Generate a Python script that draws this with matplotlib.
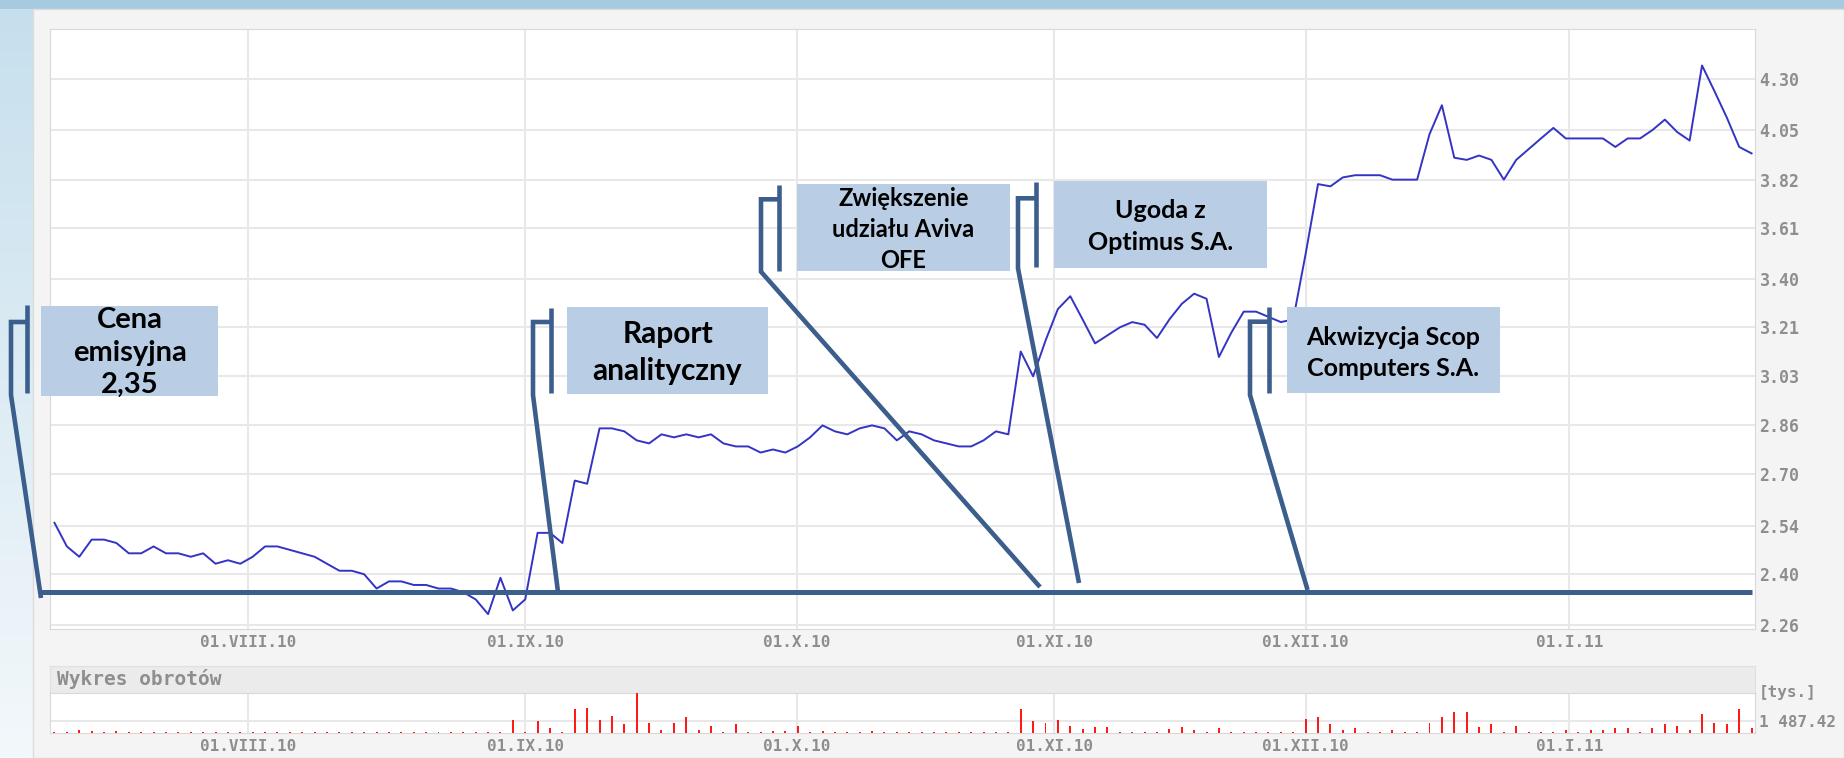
import matplotlib
matplotlib.use("Agg")
import matplotlib.pyplot as plt
from matplotlib.patches import Rectangle
from matplotlib.lines import Line2D
from matplotlib.ticker import NullLocator
import numpy as np

# kurs zamkniecia - kolejne sesje (lipiec 2010 - styczen 2011)
price = [
    2.55, 2.48, 2.45, 2.50, 2.50, 2.49, 2.46, 2.46, 2.48, 2.46,
    2.46, 2.45, 2.46, 2.43, 2.44, 2.43, 2.45, 2.48, 2.48, 2.47,
    2.46, 2.45, 2.43, 2.41, 2.41, 2.40, 2.36, 2.38, 2.38, 2.37,
    2.37, 2.36, 2.36, 2.35, 2.33, 2.29, 2.39, 2.30, 2.33, 2.52,
    2.52, 2.49, 2.68, 2.67, 2.85, 2.85, 2.84, 2.81, 2.80, 2.83,
    2.82, 2.83, 2.82, 2.83, 2.80, 2.79, 2.79, 2.77, 2.78, 2.77,
    2.79, 2.82, 2.86, 2.84, 2.83, 2.85, 2.86, 2.85, 2.81, 2.84,
    2.83, 2.81, 2.80, 2.79, 2.79, 2.81, 2.84, 2.83, 3.12, 3.03,
    3.16, 3.28, 3.33, 3.24, 3.15, 3.18, 3.21, 3.23, 3.22, 3.17,
    3.24, 3.30, 3.34, 3.32, 3.10, 3.19, 3.27, 3.27, 3.25, 3.23,
    3.24, 3.50, 3.80, 3.79, 3.83, 3.84, 3.84, 3.84, 3.82, 3.82,
    3.82, 4.03, 4.17, 3.92, 3.91, 3.93, 3.91, 3.82, 3.91, 3.96,
    4.01, 4.06, 4.01, 4.01, 4.01, 4.01, 3.97, 4.01, 4.01, 4.05,
    4.10, 4.04, 4.00, 4.37, 4.24, 4.11, 3.97, 3.94,
]

# obroty [tys.]
volume = [
    150, 150, 390, 250, 150, 250, 150, 150, 150, 150,
    150, 150, 150, 150, 150, 150, 150, 150, 150, 150,
    150, 150, 150, 150, 150, 150, 150, 150, 150, 150,
    150, 150, 150, 150, 150, 150, 150, 1570, 150, 1450,
    590, 150, 2830, 3020, 1570, 2040, 1100, 4790, 1250, 390,
    1250, 1890, 400, 900, 150, 1060, 150, 150, 300, 300,
    900, 150, 250, 150, 150, 150, 250, 150, 150, 150,
    200, 150, 150, 150, 200, 150, 150, 150, 2870, 1450,
    1250, 1570, 900, 500, 700, 700, 200, 200, 200, 200,
    500, 700, 400, 200, 590, 200, 150, 150, 150, 150,
    200, 1690, 1890, 1100, 390, 590, 200, 150, 390, 200,
    150, 1250, 1890, 2550, 2550, 700, 1100, 200, 900, 200,
    200, 150, 390, 200, 390, 390, 590, 590, 200, 590,
    1100, 900, 390, 2240, 1250, 1100, 2830, 590,
]

sessions = np.arange(len(price))

month_pos = [15.6, 38.0, 59.9, 80.7, 101.0, 122.3]
month_labels = ["01.VIII.10", "01.IX.10", "01.X.10", "01.XI.10", "01.XII.10", "01.I.11"]
price_ticks = [2.26, 2.40, 2.54, 2.70, 2.86, 3.03, 3.21, 3.40, 3.61, 3.82, 4.05, 4.30]
volume_ref = 1487.42
issue_price = 2.35

W, H = 1844, 758
CALLOUT = "#3b5e8c"
BOX = "#b9cde5"
TICK_C = "#8e8e8e"
tick_font = dict(family="DejaVu Sans Mono", weight="bold", color=TICK_C)

# opisy zdarzen: ramka, pionowa belka, linia odnosnika (w pikselach obrazka)
events = [
    dict(lines=[("Cena", 328.3), ("emisyjna", 360.8), ("2,35", 393.3)], size=21,
         box=(41, 305.5, 218, 396), bar=(27, 305, 393), stub_y=322, elbow_x=11,
         bend_y=395, end=(41, 598)),
    dict(lines=[("Raport", 342.7), ("analityczny", 380)], size=21.5,
         box=(567, 307, 768, 393.5), bar=(550.5, 308, 393), stub_y=322, elbow_x=533,
         bend_y=395, end=(558, 592)),
    dict(lines=[("Zwiększenie", 206), ("udziału Aviva", 237.3), ("OFE", 268.3)], size=17,
         box=(797, 184, 1009.5, 271), bar=(779, 185, 271), stub_y=199.3, elbow_x=761,
         bend_y=271.7, end=(1040, 587)),
    dict(lines=[("Ugoda z", 218.3), ("Optimus S.A.", 250)], size=18,
         box=(1054, 181, 1267, 268), bar=(1036, 181.7, 267.3), stub_y=198.3, elbow_x=1018,
         bend_y=268.3, end=(1079, 583)),
    dict(lines=[("Akwizycja Scop", 345), ("Computers S.A.", 376)], size=18,
         box=(1287, 307.3, 1500, 393.3), bar=(1269, 307, 393), stub_y=321.7, elbow_x=1250,
         bend_y=395, end=(1307.6, 590)),
]


def frect(x0, y0, x1, y1):
    return [x0 / W, 1 - y1 / H, (x1 - x0) / W, (y1 - y0) / H]


def fx(x):
    return np.asarray(x, dtype=float) / W


def fy(y):
    return 1 - np.asarray(y, dtype=float) / H


fig = plt.figure(figsize=(W / 100, H / 100), dpi=100)

# tlo strony
bg = fig.add_axes([0, 0, 1, 1], zorder=-5)
grad = np.linspace(0, 1, 256).reshape(-1, 1)
bg.imshow(grad, aspect="auto", extent=[0, 1, 0, 1], cmap=matplotlib.colors.LinearSegmentedColormap.from_list(
    "bg", ["#c6dfed", "#f3f8fb"]))
bg.add_patch(Rectangle((0, fy(9)), 1, 1 - fy(9), color="#a6cbe0", lw=0))
bg.add_patch(Rectangle((fx(33), 0), 1 - fx(33), fy(9), facecolor="#f4f4f4", edgecolor="#dcdcdc", lw=1))
bg.set_xlim(0, 1)
bg.set_ylim(0, 1)
bg.axis("off")

# wykres kursu
ax = fig.add_axes(frect(50.4, 29.3, 1755.3, 628.7))
ax.set_facecolor("white")
ax.plot(sessions, price, color="#3434c4", lw=1.4, zorder=3)
ax.plot([-1.09, 137.0], [issue_price, issue_price], color=CALLOUT, lw=3.6,
        solid_capstyle="butt", clip_on=False, zorder=4)
ax.set_yscale("log")
ax.set_ylim(2.251, 4.56)
ax.set_xlim(-0.33, 137.3)
ax.set_yticks(price_ticks)
ax.set_yticklabels([f"{v:.2f}" for v in price_ticks])
ax.yaxis.set_minor_locator(NullLocator())
ax.set_xticks(month_pos)
ax.set_xticklabels(month_labels)
ax.yaxis.tick_right()
ax.tick_params(axis="y", length=0, pad=3, labelsize=12)
ax.tick_params(axis="x", length=0, pad=4.5, labelsize=11.5)
for lab in ax.get_xticklabels() + ax.get_yticklabels():
    lab.set(**tick_font)
ax.grid(True, color="#e8e8e8", lw=1.5)
ax.set_axisbelow(True)
for sp in ax.spines.values():
    sp.set_color("#d9d9d9")

# naglowek wykresu obrotow
hdr = fig.add_axes(frect(50.4, 666, 1755.3, 693.3))
hdr.set_facecolor("#ebebeb")
hdr.set_xticks([])
hdr.set_yticks([])
for sp in hdr.spines.values():
    sp.set_color("#e0e0e0")
fig.text(fx(57), fy(679), "Wykres obrotów", ha="left", va="center", fontsize=14, **tick_font)

# wykres obrotow
vax = fig.add_axes(frect(50.4, 693.3, 1755.3, 733.3))
vax.set_facecolor("white")
vax.bar(sessions, volume, width=0.16, color="#ff1a1a", zorder=3)
vax.set_xlim(-0.33, 137.3)
vax.set_ylim(0, 4722)
vax.set_yticks([volume_ref])
vax.set_yticklabels(["1 487.42"])
vax.yaxis.tick_right()
vax.set_xticks(month_pos)
vax.set_xticklabels(month_labels)
vax.tick_params(axis="y", length=0, pad=3, labelsize=11.5)
vax.tick_params(axis="x", length=0, pad=4, labelsize=11.5)
for lab in vax.get_xticklabels() + vax.get_yticklabels():
    lab.set(**tick_font)
vax.grid(True, color="#e8e8e8", lw=1.5)
vax.set_axisbelow(True)
for sp in vax.spines.values():
    sp.set_color("#d9d9d9")
fig.text(fx(1759), fy(692), "[tys.]", ha="left", va="center", fontsize=11.5, **tick_font)

# odnosniki do zdarzen
for ev in events:
    x0, y0, x1, y1 = ev["box"]
    fig.add_artist(Rectangle((fx(x0), fy(y1)), fx(x1) - fx(x0), fy(y0) - fy(y1),
                             transform=fig.transFigure, facecolor=BOX, lw=0, zorder=5))
    bx, by0, by1 = ev["bar"]
    fig.add_artist(Line2D(fx([bx, bx]), fy([by0, by1]), transform=fig.transFigure,
                          color=CALLOUT, lw=3.3, solid_capstyle="butt", zorder=6))
    ex, ey = ev["end"]
    xs = [bx, ev["elbow_x"], ev["elbow_x"], ex]
    ys = [ev["stub_y"], ev["stub_y"], ev["bend_y"], ey]
    fig.add_artist(Line2D(fx(xs), fy(ys), transform=fig.transFigure, color=CALLOUT, lw=3.3,
                          solid_capstyle="butt", solid_joinstyle="miter", zorder=6))
    cx = (x0 + x1) / 2
    for txt, base in ev["lines"]:
        fig.text(fx(cx), fy(base), txt, ha="center", va="baseline", fontsize=ev["size"],
                 family=["Lato", "DejaVu Sans"], weight="bold", color="black", zorder=7)

fig.savefig("out.png", dpi=100)
